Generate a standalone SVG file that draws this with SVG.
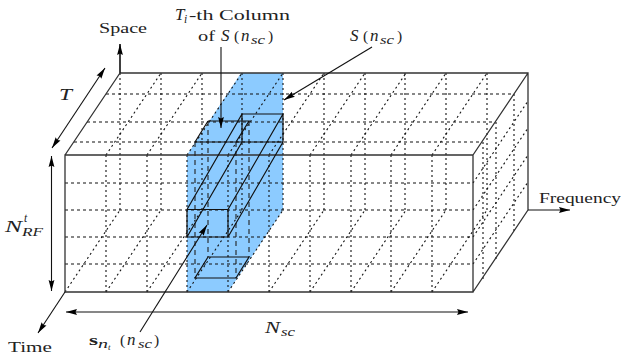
<svg xmlns="http://www.w3.org/2000/svg" width="621" height="360" viewBox="0 0 621 360">
<style>
text{font-family:"Liberation Serif","Times New Roman",serif;font-size:15.5px;fill:#222}
.i{font-style:italic;font-size:17px}
.s{font-size:11.5px;font-style:italic}
.b{font-weight:bold}
.dot{fill:none;stroke:#111;stroke-width:1.1;stroke-dasharray:2 3}
.dash{fill:none;stroke:#111;stroke-width:1.1;stroke-dasharray:3 3}
.long{fill:none;stroke:#222;stroke-width:1.1;stroke-dasharray:5 4}
.box{fill:none;stroke:#333;stroke-width:1.3}
.col{fill:none;stroke:#111;stroke-width:1.2}
.arr{fill:none;stroke:#111;stroke-width:1.1;marker-end:url(#ah)}
.arr2{fill:none;stroke:#111;stroke-width:1.1;marker-start:url(#ah);marker-end:url(#ah)}
</style>
<defs>
<marker id="ah" markerUnits="userSpaceOnUse" markerWidth="12" markerHeight="8" refX="11" refY="3.5" orient="auto-start-reverse">
<path d="M0 0.6L11 3.5L0 6.4L1.5 3.5Z" fill="#000"/>
</marker>
</defs>
<g id="plane">
<path d="M241 73H283V210L228 292H187V155Z" fill="#8ccbff"/>
</g>
<g id="grid">
<path class="dot" d="M106 155V292M147 155V292M187 155V292M228 155V292M269 155V292M310 155V292M351 155V292M391 155V292M432 155V292"/>
<path class="dot" d="M120 73V210M161 73V210M202 73V210M242 73V210M283 73V210M324 73V210M365 73V210M405 73V210M446 73V210M487 73V210"/>
<path class="dot" d="M106 155l55-82M147 155l55-82M187 155l55-82M228 155l55-82M269 155l55-82M310 155l55-82M351 155l55-82M391 155l55-82M432 155l55-82"/>
<path class="dot" d="M65 292l55-82M106 292l55-82M147 292l55-82M187 292l55-82M228 292l55-82M269 292l55-82M310 292l55-82M351 292l55-82M391 292l55-82M432 292l55-82"/>
<path class="dot" d="M473 183l55-82M473 210l55-82M473 237l55-82M473 264l55-82"/>
<path class="dot" d="M514 94V231M496 122V259M483 142V279"/>
<path class="dash" d="M65 183H473M65 210H473M65 237H473M65 264H473M106 94H514M87 122H495M74 142H482"/>
</g>
<g id="cuboid">
<path class="box" d="M65 155H473V292H65ZM120 73H528V210M120 73V44M65 155L120 73M473 155L528 73M473 292L528 210"/>
</g>
<g id="column">
<path class="long" d="M195 142V278M208 121V257M236 142V278M249 121V257"/>
<path class="col" d="M187 209.5H228V237H187ZM242 114H283V142H242ZM242 114L187 209.5M283 114L228 209.5M283 142L228 237M242 142L187 237"/>
<path class="col" d="M195 142H242M208 121H249L236 142M208 121L195 142M208 257H249L236 278H195Z"/>
</g>
<g id="connectors">
<path class="arr" d="M120 73V44"/>
<path class="arr" d="M528 210H570"/>
<path class="arr" d="M65 292L38 333"/>
<path class="arr2" d="M105 68L52 148"/>
<path class="arr2" d="M51.500 156V291"/>
<path class="arr2" d="M66 312H468"/>
<path class="arr" d="M221 47V128"/>
<path class="arr" d="M372 47L284 100"/>
<path class="arr" d="M140 332L207 225"/>
</g>
<g id="label-space"><text x="99" y="33" textLength="48" lengthAdjust="spacingAndGlyphs">Space</text></g>
<g id="label-column">
<text class="i" x="175" y="20">T</text><text class="s" x="184" y="23">i</text>
<text x="189" y="20" textLength="101" lengthAdjust="spacingAndGlyphs">-th Column</text>
<text x="198" y="41" textLength="17" lengthAdjust="spacingAndGlyphs">of</text>
<text class="i" x="221" y="41">S</text><text x="234" y="41">(</text><text class="i" x="241" y="41">n</text>
<text class="s" x="251" y="44" textLength="14" lengthAdjust="spacingAndGlyphs">sc</text><text x="268" y="41">)</text>
</g>
<g id="label-s">
<text class="i" x="350" y="41">S</text><text x="363" y="41">(</text><text class="i" x="370" y="41">n</text>
<text class="s" x="380" y="44" textLength="14" lengthAdjust="spacingAndGlyphs">sc</text><text x="397" y="41">)</text>
</g>
<g id="label-frequency"><text x="539" y="203" textLength="82" lengthAdjust="spacingAndGlyphs">Frequency</text></g>
<g id="label-time"><text x="8" y="352" textLength="44" lengthAdjust="spacingAndGlyphs">Time</text></g>
<g id="label-t"><text class="i" x="59" y="100" textLength="13" lengthAdjust="spacingAndGlyphs">T</text></g>
<g id="label-nrf">
<text class="i" x="5" y="232" textLength="17" lengthAdjust="spacingAndGlyphs">N</text>
<text class="s" x="24" y="222">t</text>
<text class="s" x="22" y="236" textLength="21" lengthAdjust="spacingAndGlyphs">RF</text>
</g>
<g id="label-nsc">
<text class="i" x="265" y="333" textLength="15" lengthAdjust="spacingAndGlyphs">N</text>
<text class="s" x="281" y="336" textLength="14" lengthAdjust="spacingAndGlyphs">sc</text>
</g>
<g id="label-snt">
<text class="b" x="89" y="345" textLength="9" lengthAdjust="spacingAndGlyphs">s</text>
<text class="s" x="98" y="348" textLength="10" lengthAdjust="spacingAndGlyphs">n</text>
<text class="s" x="108" y="350" style="font-size:9px">t</text>
<text x="120" y="345">(</text>
<text class="i" x="127" y="345">n</text>
<text class="s" x="138" y="348" textLength="14" lengthAdjust="spacingAndGlyphs">sc</text>
<text x="154" y="345">)</text>
</g>
</svg>
